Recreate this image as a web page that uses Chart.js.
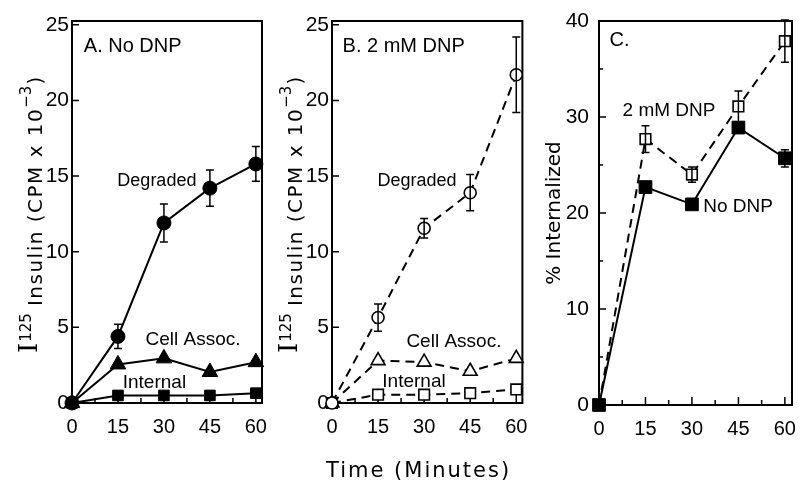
<!DOCTYPE html>
<html lang="en">
<head>
  <meta charset="UTF-8">
  <title>Insulin degradation with and without DNP</title>
  <script src="https://cdn.jsdelivr.net/npm/chart.js"></script>
  <style>
    body {
      margin: 0;
      background: #fff;
      width: 802px;
      height: 483px;
      position: relative;
      overflow: hidden;
    }
    canvas {
      position: absolute;
      top: 0;
    }
    #xTitle {
      position: absolute;
      left: 326px;
      top: 458px;
      line-height: 24px;
      font-family: 'DejaVu Sans', sans-serif;
      font-size: 21px;
      letter-spacing: 2px;
      white-space: nowrap;
      color: #000;
    }
  </style>
</head>
<body>
  <canvas id="chartA" width="272" height="445" style="left:0"></canvas>
  <canvas id="chartB" width="272" height="445" style="left:260px"></canvas>
  <canvas id="chartC" width="272" height="445" style="left:530px"></canvas>
  <div id="xTitle">Time (Minutes)</div>

  <script>
    // time points (minutes)
    const times = [0, 15, 30, 45, 60];

    // A. No DNP  (CPM x 10^-3)
    const degradedNoDnp    = [0, 4.4, 11.9, 14.2, 15.8];
    const degradedNoDnpErr = [0, 0.8, 1.25, 1.2, 1.15];
    const cellAssocNoDnp   = [0, 2.55, 2.95, 2.05, 2.7];
    const internalNoDnp    = [0, 0.5, 0.5, 0.5, 0.65];

    // B. 2 mM DNP
    const degradedDnp    = [0, 5.65, 11.55, 13.9, 21.7];
    const degradedDnpErr = [0, 0.9, 0.65, 1.2, 2.5];
    const cellAssocDnp   = [0, 2.8, 2.7, 2.1, 2.95];
    const internalDnp    = [0, 0.55, 0.55, 0.65, 0.9];

    // C. % internalized
    const pctNoDnp    = [0, 22.7, 20.9, 28.9, 25.7];
    const pctNoDnpErr = [0, 0, 0, 0, 0.9];
    const pctDnp      = [0, 27.7, 24.0, 31.1, 37.9];
    const pctDnpErr   = [0, 1.4, 0.8, 1.6, 2.2];

    // axis ticks
    const timeTicks      = [0, 15, 30, 45, 60];
    const timeMinorTicks = [7.5, 22.5, 37.5, 52.5];
    const insulinTicks   = [0, 5, 10, 15, 20, 25];
    const pctTicks       = [0, 10, 20, 30, 40];
    const pctMinorTicks  = [5, 15, 25, 35];

    const SANS = "'Liberation Sans', Arial, sans-serif";

    // box round the plot + inward tick marks
    const framePlugin = {
      id: 'frame',
      beforeDatasetsDraw(chart, args, opts) {
        const { ctx, chartArea: a, scales: { x, y } } = chart;
        ctx.save();
        ctx.strokeStyle = '#000';
        ctx.lineWidth = 2;
        ctx.strokeRect(a.left, a.top, a.right - a.left, a.bottom - a.top);
        ctx.lineWidth = 1.5;
        ctx.beginPath();
        timeTicks.forEach(v => {
          const px = x.getPixelForValue(v);
          ctx.moveTo(px, a.bottom); ctx.lineTo(px, a.bottom - 8);
        });
        timeMinorTicks.forEach(v => {
          const px = x.getPixelForValue(v);
          ctx.moveTo(px, a.bottom); ctx.lineTo(px, a.bottom - 5);
        });
        opts.yTicks.forEach(v => {
          const py = y.getPixelForValue(v);
          ctx.moveTo(a.left, py); ctx.lineTo(a.left + 7, py);
        });
        (opts.yMinor || []).forEach(v => {
          const py = y.getPixelForValue(v);
          ctx.moveTo(a.left, py); ctx.lineTo(a.left + 4, py);
        });
        ctx.stroke();
        ctx.restore();
      }
    };

    const errorBarPlugin = {
      id: 'errorBars',
      afterDatasetsDraw(chart) {
        const { ctx, scales: { y } } = chart;
        chart.data.datasets.forEach((ds, i) => {
          if (!ds.errors) return;
          const meta = chart.getDatasetMeta(i);
          ctx.save();
          ctx.strokeStyle = '#000';
          ctx.lineWidth = 1.5;
          ctx.beginPath();
          ds.data.forEach((pt, j) => {
            const e = ds.errors[j];
            if (!e) return;
            const px = meta.data[j].x;
            const top = y.getPixelForValue(pt.y + e);
            const bot = y.getPixelForValue(pt.y - e);
            ctx.moveTo(px, top); ctx.lineTo(px, bot);
            ctx.moveTo(px - 4, top); ctx.lineTo(px + 4, top);
            ctx.moveTo(px - 4, bot); ctx.lineTo(px + 4, bot);
          });
          ctx.stroke();
          ctx.restore();
        });
      }
    };

    // in-plot labels and the rotated y title
    const notesPlugin = {
      id: 'notes',
      afterDraw(chart, args, opts) {
        const { ctx, scales: { x, y } } = chart;
        ctx.save();
        ctx.fillStyle = '#000';
        ctx.textBaseline = 'middle';
        opts.items.forEach(n => {
          ctx.font = n.size + 'px ' + SANS;
          ctx.textAlign = n.align || 'center';
          ctx.fillText(n.text, x.getPixelForValue(n.x), y.getPixelForValue(n.y));
        });
        ctx.restore();

        const t = opts.title;
        ctx.save();
        ctx.fillStyle = '#000';
        ctx.translate(t.x, t.y);
        ctx.rotate(-Math.PI / 2);
        ctx.textBaseline = 'alphabetic';
        ctx.textAlign = 'left';
        let total = 0;
        t.parts.forEach(p => {
          ctx.font = p.font;
          ctx.letterSpacing = p.spacing || '0px';
          total += ctx.measureText(p.text).width + (p.gap || 0);
        });
        let cx = t.center ? -total / 2 : 0;
        t.parts.forEach(p => {
          ctx.font = p.font;
          ctx.letterSpacing = p.spacing || '0px';
          ctx.fillText(p.text, cx, -(p.raise || 0));
          cx += ctx.measureText(p.text).width + (p.gap || 0);
        });
        ctx.restore();
      }
    };

    function series(values, errors, marker, radius, filled, dashed) {
      return {
        data: times.map((t, i) => ({ x: t, y: values[i] })),
        errors: errors,
        borderColor: '#000',
        borderWidth: 2,
        borderDash: dashed ? [9, 6] : [],
        pointStyle: marker,
        pointRadius: radius,
        pointBackgroundColor: filled ? '#000' : '#fff',
        pointBorderColor: '#000',
        pointBorderWidth: filled ? 1 : 1.6,
        tension: 0,
        clip: false
      };
    }

    function makePanel(id, cfg) {
      new Chart(document.getElementById(id), {
        type: 'line',
        data: { datasets: cfg.datasets },
        options: {
          responsive: false,
          animation: false,
          events: [],
          layout: { padding: { top: 21, right: cfg.padRight, left: 0, bottom: 0 } },
          plugins: {
            legend: { display: false },
            tooltip: { enabled: false },
            frame: { yTicks: cfg.yTicks, yMinor: cfg.yMinor },
            notes: { items: cfg.notes, title: cfg.title }
          },
          scales: {
            x: {
              type: 'linear',
              min: 0,
              max: cfg.xMax,
              grid: { display: false, drawTicks: false },
              border: { display: false },
              afterBuildTicks: s => { s.ticks = timeTicks.map(v => ({ value: v })); },
              afterFit: s => { s.height = cfg.xHeight; s.paddingLeft = 0; s.paddingRight = 0; },
              ticks: { color: '#000', font: { size: 20, family: SANS }, padding: 12, maxRotation: 0, autoSkip: false }
            },
            y: {
              min: 0,
              max: cfg.yMax,
              grid: { display: false, drawTicks: false },
              border: { display: false },
              afterBuildTicks: s => { s.ticks = cfg.yTicks.map(v => ({ value: v })); },
              afterFit: s => { s.width = cfg.yWidth; s.paddingTop = 0; s.paddingBottom = 0; },
              ticks: { color: '#000', font: { size: 21, family: SANS }, padding: cfg.yPad }
            }
          }
        },
        plugins: [framePlugin, errorBarPlugin, notesPlugin]
      });
    }

    const insulinTitle = (x) => ({
      x: x, y: 353, center: false,
      parts: [
        { text: 'I', font: "26px 'DejaVu Serif'", raise: 5, gap: 1 },
        { text: '125', font: "15px 'DejaVu Sans'", raise: 11, gap: 7 },
        { text: 'Insulin (CPM x 10', font: "20px 'DejaVu Sans'", spacing: '1.5px' },
        { text: '\u22123', font: "15px 'DejaVu Sans'", raise: 11, gap: 1 },
        { text: ')', font: "20px 'DejaVu Sans'" }
      ]
    });

    makePanel('chartA', {
      xMax: 62, yMax: 25.25, yWidth: 72, padRight: 7, xHeight: 42, yPad: 3,
      yTicks: insulinTicks,
      datasets: [
        series(degradedNoDnp, degradedNoDnpErr, 'circle', 7, true, false),
        series(cellAssocNoDnp, null, 'triangle', 9, true, false),
        series(internalNoDnp, null, 'rect', 7.5, true, false)
      ],
      notes: [
        { text: 'A. No DNP', x: 3.85, y: 23.56, size: 20, align: 'left' },
        { text: 'Degraded', x: 27.7, y: 14.68, size: 18 },
        { text: 'Cell Assoc.', x: 39.5, y: 4.17, size: 19 },
        { text: 'Internal', x: 26.9, y: 1.32, size: 19 }
      ],
      title: insulinTitle(42)
    });

    makePanel('chartB', {
      xMax: 62, yMax: 25.25, yWidth: 72, padRight: 7, xHeight: 42, yPad: 3,
      yTicks: insulinTicks,
      datasets: [
        series(degradedDnp, degradedDnpErr, 'circle', 6, false, true),
        series(cellAssocDnp, null, 'triangle', 8, false, true),
        series(internalDnp, null, 'rect', 7.5, false, true)
      ],
      notes: [
        { text: 'B. 2 mM DNP', x: 3.44, y: 23.56, size: 20, align: 'left' },
        { text: 'Degraded', x: 27.7, y: 14.68, size: 18 },
        { text: 'Cell Assoc.', x: 39.7, y: 4.05, size: 19 },
        { text: 'Internal', x: 26.7, y: 1.41, size: 19 }
      ],
      title: insulinTitle(42)
    });

    makePanel('chartC', {
      xMax: 62.3, yMax: 40, yWidth: 69, padRight: 3, xHeight: 40, yPad: 10,
      yTicks: pctTicks, yMinor: pctMinorTicks,
      datasets: [
        series(pctNoDnp, pctNoDnpErr, 'rect', 9, true, false),
        series(pctDnp, pctDnpErr, 'rect', 7.5, false, true)
      ],
      notes: [
        { text: 'C.', x: 3.4, y: 37.95, size: 20, align: 'left' },
        { text: '2 mM DNP', x: 22.6, y: 30.7, size: 19 },
        { text: 'No DNP', x: 44.9, y: 20.6, size: 19 }
      ],
      title: {
        x: 30, y: 213, center: true,
        parts: [{ text: '% Internalized', font: "20px 'DejaVu Sans'" }]
      }
    });
  </script>
</body>
</html>
